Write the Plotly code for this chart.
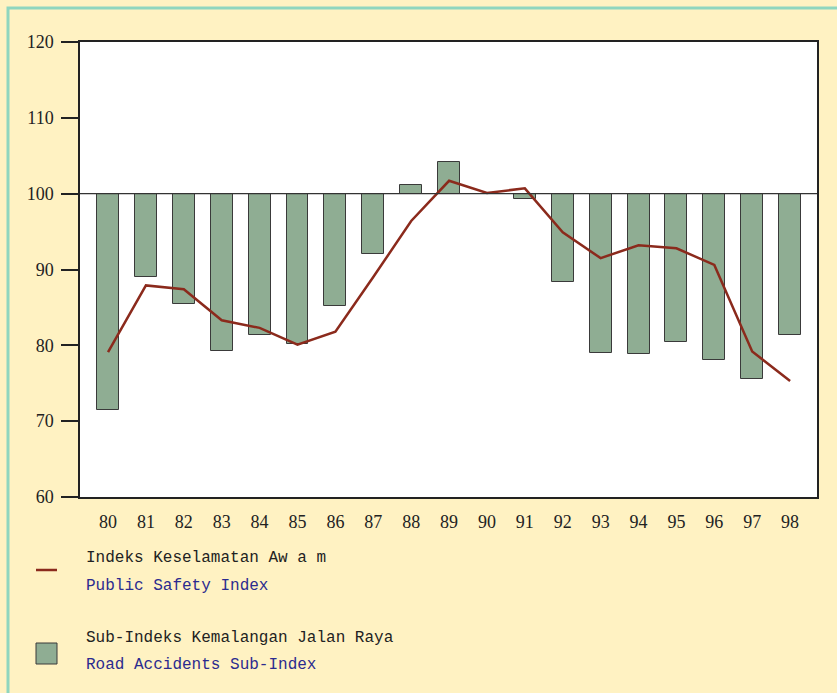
import plotly.graph_objects as go

years = [80, 81, 82, 83, 84, 85, 86, 87, 88, 89, 90, 91, 92, 93, 94, 95, 96, 97, 98]
year_labels = [str(y) for y in years]

# Road accidents sub-index (bars drawn from base 100)
road_index = [71.5, 89.0, 85.5, 79.2, 81.3, 80.2, 85.2, 92.0, 101.1, 104.2,
              100.0, 99.3, 88.4, 79.0, 78.8, 80.4, 78.1, 75.5, 81.3]
# Public safety index (line)
safety_index = [79.1, 87.9, 87.4, 83.3, 82.3, 80.1, 81.8, 89.0, 96.4, 101.7,
                100.1, 100.7, 94.9, 91.5, 93.2, 92.8, 90.6, 79.2, 75.3]

y_ticks = [60, 70, 80, 90, 100, 110, 120]

BAR_GREEN = "#8fad93"
LINE_RED = "#8b2a1c"
BG = "#fff2c2"
NAVY = "#2b2b8f"

fig = go.Figure()

fig.add_trace(go.Bar(
    x=years,
    y=[v - 100 for v in road_index],
    base=100,
    width=0.58,
    marker=dict(color=BAR_GREEN, line=dict(color="#3a3a3a", width=1)),
    showlegend=False,
    hoverinfo="skip",
))

fig.add_trace(go.Scatter(
    x=years,
    y=safety_index,
    mode="lines",
    line=dict(color=LINE_RED, width=2.5),
    showlegend=False,
))

# baseline at 100
fig.add_shape(type="line", xref="paper", yref="y", x0=0, x1=1, y0=100, y1=100,
              line=dict(color="#333333", width=1.2), layer="above")

# outer frame
fig.add_shape(type="rect", xref="paper", yref="paper",
              x0=(8 - 80) / 737, x1=(845 - 80) / 737,
              y0=(497 - 700) / 455, y1=(497 - 8) / 455,
              line=dict(color="#8fd6bf", width=3), layer="below")

# legend drawn manually
def px_x(px):
    return (px - 80) / 737

def px_y(py):
    return (497 - py) / 455

fig.add_shape(type="line", xref="paper", yref="paper",
              x0=px_x(36), x1=px_x(57), y0=px_y(570), y1=px_y(570),
              line=dict(color=LINE_RED, width=2.5))
fig.add_shape(type="rect", xref="paper", yref="paper",
              x0=px_x(36), x1=px_x(57), y0=px_y(664), y1=px_y(643),
              fillcolor=BAR_GREEN, line=dict(color="#3a3a3a", width=1))

legend_texts = [
    ("Indeks Keselamatan Aw a m", 558, "#222222"),
    ("Public Safety Index", 586, NAVY),
    ("Sub-Indeks Kemalangan Jalan Raya", 638, "#222222"),
    ("Road Accidents Sub-Index", 665, NAVY),
]
for txt, py, col in legend_texts:
    fig.add_annotation(text=txt, xref="paper", yref="paper",
                       x=px_x(84), y=px_y(py), xanchor="left", yanchor="middle",
                       showarrow=False,
                       font=dict(family="Liberation Mono", size=16, color=col))

fig.update_layout(
    width=837, height=693,
    margin=dict(l=80, r=20, t=42, b=196),
    paper_bgcolor=BG,
    plot_bgcolor="white",
    bargap=0,
    xaxis=dict(
        range=[79.26, 98.71],
        tickmode="array", tickvals=years, ticktext=year_labels,
        ticks="", showgrid=False, zeroline=False,
        showline=True, linecolor="#222222", linewidth=1.5, mirror=True,
        tickfont=dict(family="Liberation Serif", size=18, color="#222222"),
        ticklabelstandoff=8,
    ),
    yaxis=dict(
        range=[60, 120],
        tickmode="array", tickvals=y_ticks,
        ticks="outside", ticklen=17, tickwidth=1.5, tickcolor="#222222",
        showgrid=False, zeroline=False,
        showline=True, linecolor="#222222", linewidth=1.5, mirror=True,
        tickfont=dict(family="Liberation Serif", size=18, color="#222222"),
        ticklabelstandoff=4,
    ),
)

fig.write_html("out.html")
